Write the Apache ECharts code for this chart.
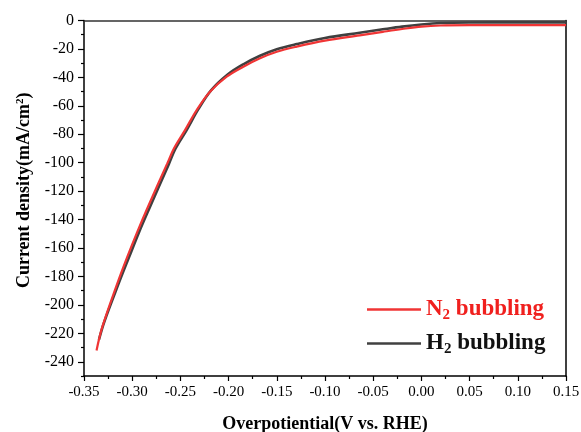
<!DOCTYPE html>
<html>
<head>
<meta charset="utf-8">
<script src="https://cdn.jsdelivr.net/npm/echarts@6/dist/echarts.min.js"></script>
<style>html,body{margin:0;padding:0;background:#fff;}#c{width:581px;height:432px;}</style>
</head>
<body>
<div id="c"></div>
<script>
// N2 bubbling (red)
const n2V = [-0.337,-0.331,-0.3155,-0.305,-0.2947,-0.2843,-0.2636,-0.2566,-0.2452,-0.2331,-0.2193,-0.202,-0.1847,-0.1674,-0.15,-0.1294,-0.1,-0.064,-0.04,-0.02,0.0,0.02,0.05,0.1,0.15];
const n2J = [-232,-215.5,-185,-166,-148.6,-132,-100.5,-89.9,-77.1,-63,-50.1,-39.5,-32.5,-26.6,-22,-18.4,-14.2,-10.5,-8,-6,-4.3,-3.5,-3.3,-3.3,-3.3];
// H2 bubbling (dark grey)
const h2V = [-0.3345,-0.329,-0.3135,-0.303,-0.293,-0.2825,-0.262,-0.255,-0.2435,-0.2315,-0.218,-0.201,-0.1847,-0.1674,-0.15,-0.1294,-0.1,-0.064,-0.04,-0.02,0.0,0.02,0.05,0.1,0.15];
const h2J = [-224.5,-212,-184,-166,-149,-132.5,-101,-90,-77,-62.5,-49,-38,-30.8,-24.8,-20.2,-16.6,-12.3,-8.6,-6.2,-4.3,-2.8,-1.8,-1.4,-1.3,-1.3];
const yMajor = [0,-20,-40,-60,-80,-100,-120,-140,-160,-180,-200,-220,-240];
const yMinor = [-10,-30,-50,-70,-90,-110,-130,-150,-170,-190,-210,-230,-250];

const pair = (xs, ys) => xs.map((x, i) => [x, ys[i]]);
const serif = '"Liberation Serif", "Times New Roman", serif';
const chart = echarts.init(document.getElementById('c'));
const legendRich = (color) => ({
  a: {fontFamily: serif, fontWeight: 'bold', fontSize: 23, color: color},
  s: {fontFamily: serif, fontWeight: 'bold', fontSize: 15, color: color, verticalAlign: 'bottom', padding: [12, 0, 0, 0]}
});
chart.setOption({
  animation: false,
  backgroundColor: '#fff',
  grid: {left: 84, top: 20.5, right: 15, bottom: 56, containLabel: false, outerBoundsMode: 'none'},
  legend: [
    {left: 362, top: 293, itemWidth: 54, itemHeight: 2.6, itemGap: 6, icon: 'rect',
     data: ['N2 bubbling'], formatter: () => '{a|N}{s|2}{a| bubbling}',
     textStyle: {rich: legendRich('#f0201e')}},
    {left: 362, top: 327, itemWidth: 54, itemHeight: 2.6, itemGap: 6, icon: 'rect',
     data: ['H2 bubbling'], formatter: () => '{a|H}{s|2}{a| bubbling}',
     textStyle: {rich: legendRich('#111')}}
  ],
  xAxis: [
    {type: 'value', min: -0.35, max: 0.15, interval: 0.05,
     name: 'Overpotiential(V vs. RHE)', nameLocation: 'middle', nameGap: 39,
     nameTextStyle: {fontFamily: serif, fontWeight: 'bold', fontSize: 18, color: '#000'},
     axisLine: {show: true, onZero: false, lineStyle: {color: '#000', width: 1.5}},
     axisTick: {show: true, inside: false, length: 5, lineStyle: {color: '#000', width: 1.2}},
     minorTick: {show: true, splitNumber: 2, length: 3, lineStyle: {color: '#000', width: 1.2}},
     splitLine: {show: false},
     axisLabel: {fontFamily: serif, fontSize: 15, color: '#000', margin: 9,
       formatter: v => (Math.abs(v) < 1e-9 ? 0 : v).toFixed(2)}},
    {type: 'value', position: 'top', min: -0.35, max: 0.15,
     axisLine: {show: true, onZero: false, lineStyle: {color: '#333', width: 1.5}},
     axisTick: {show: false}, axisLabel: {show: false}, splitLine: {show: false}}
  ],
  yAxis: [
    {type: 'value', min: -250, max: 0, interval: 10,
     name: '{b|Current density(mA/cm}{p|2}{b|)}', nameLocation: 'middle', nameGap: 50,
     nameTextStyle: {padding: [0, 0, 0, 16], rich: {
       b: {fontFamily: serif, fontWeight: 'bold', fontSize: 18, color: '#000'},
       p: {fontFamily: serif, fontWeight: 'bold', fontSize: 11, color: '#000', verticalAlign: 'top', padding: [0, 0, 8, 0]}
     }},
     axisLine: {show: true, onZero: false, lineStyle: {color: '#000', width: 1.5}},
     axisTick: {show: true, length: 6, customValues: yMajor, lineStyle: {color: '#000', width: 1.2}},
     splitLine: {show: false},
     axisLabel: {fontFamily: serif, fontSize: 16, color: '#000', margin: 10, customValues: yMajor}},
    {type: 'value', min: -250, max: 0, interval: 10, position: 'left',
     axisLine: {show: false, onZero: false},
     axisTick: {show: true, length: 3, customValues: yMinor, lineStyle: {color: '#000', width: 1.2}},
     axisLabel: {show: false}, splitLine: {show: false}},
    {type: 'value', position: 'right', min: -250, max: 0,
     axisLine: {show: true, onZero: false, lineStyle: {color: '#000', width: 1.5}},
     axisTick: {show: false}, axisLabel: {show: false}, splitLine: {show: false}}
  ],
  series: [
    {name: 'H2 bubbling', type: 'line', data: pair(h2V, h2J), showSymbol: false, symbol: 'none',
     smooth: 0.35, lineStyle: {color: '#404040', width: 2.6}, itemStyle: {color: '#404040'}},
    {name: 'N2 bubbling', type: 'line', data: pair(n2V, n2J), showSymbol: false, symbol: 'none',
     smooth: 0.35, lineStyle: {color: '#f03535', width: 2.2}, itemStyle: {color: '#f03535'}}
  ]
});
</script>
</body>
</html>
